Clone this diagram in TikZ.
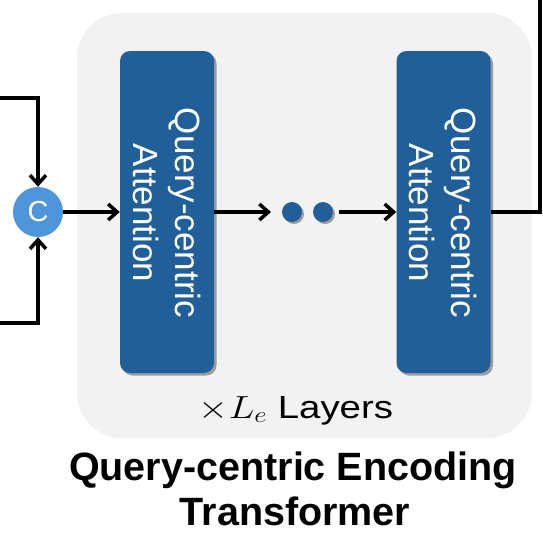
\documentclass[tikz,border=0pt]{standalone}
\usepackage{fix-cm}
\usepackage{fontspec}
\setsansfont{Liberation Sans}
\usetikzlibrary{arrows.meta,shadows}
\definecolor{bgray}{HTML}{F2F2F2}
\definecolor{blk}{HTML}{215F9A}
\definecolor{cblue}{HTML}{4E95DA}
\tikzset{
  layer/.style={fill=blk, rounded corners=10pt, minimum width=94pt, minimum height=322pt, inner sep=0pt,
    drop shadow={shadow xshift=2.5pt, shadow yshift=-2.5pt, opacity=0.35, fill=black}},
  dotnode/.style={circle, fill=blk, minimum size=20pt, inner sep=0pt,
    drop shadow={shadow xshift=2pt, shadow yshift=-2pt, opacity=0.35, fill=black}},
  lbl/.style={rotate=-90, align=center, text=white, font=\sffamily\fontsize{35}{42}\selectfont, inner sep=0pt},
  conn/.style={line width=3.5pt},
  arr/.style={line width=3.5pt, -{Straight Barb[length=9pt, width=16pt, line width=3.5pt]}},
}
\begin{document}
\begin{tikzpicture}[x=1pt, y=-1pt]
\useasboundingbox (0,0) rectangle (543,550);
% background panel
\node[fill=bgray, rounded corners=45pt, minimum width=455pt, minimum height=425pt, inner sep=0pt] (panel) at (304.5,225.5) {};
% layers
\node[layer] (b1) at (167,212) {};
\node[lbl] (t1) at (167,213) {Query-centric\\Attention};
\node[layer] (b2) at (443.5,212) {};
\node[lbl] (t2) at (443.5,213) {Query-centric\\Attention};
% dots
\node[dotnode] (d1) at (292,212) {};
\node[dotnode] (d2) at (323,212) {};
% concat circle
\node[circle, fill=cblue, minimum size=50pt, inner sep=0pt, text=white, font=\sffamily\fontsize{29}{30}\selectfont] (c) at (38,212) {C};
% free ends
\coordinate (tl) at (0,98);
\coordinate (bl) at (0,323);
\coordinate (tr) at (540,0);
\coordinate (a1) at (271,212);
\coordinate (a2) at (339,212);
% connectors
\draw[arr] (tl) -| (c.north);
\draw[arr] (bl) -| (c.south);
\draw[arr] (c.east) -- (b1.west);
\draw[arr] (b1.east) -- (a1);
\draw[arr] (a2) -- (b2.west);
\draw[conn] (b2.east) -| (tr);
% labels
\node[anchor=base, font=\sffamily\fontsize{32}{36}\selectfont, xscale=1.2, inner sep=0pt] (lay) at (296,418) {$\times L_e$ Layers};
\node[anchor=base, font=\sffamily\bfseries\fontsize{39.5}{45}\selectfont, inner sep=0pt] (title1) at (293,480) {Query-centric Encoding};
\node[anchor=base, font=\sffamily\bfseries\fontsize{39.5}{45}\selectfont, inner sep=0pt] (title2) at (295,525) {Transformer};
\end{tikzpicture}
\end{document}
